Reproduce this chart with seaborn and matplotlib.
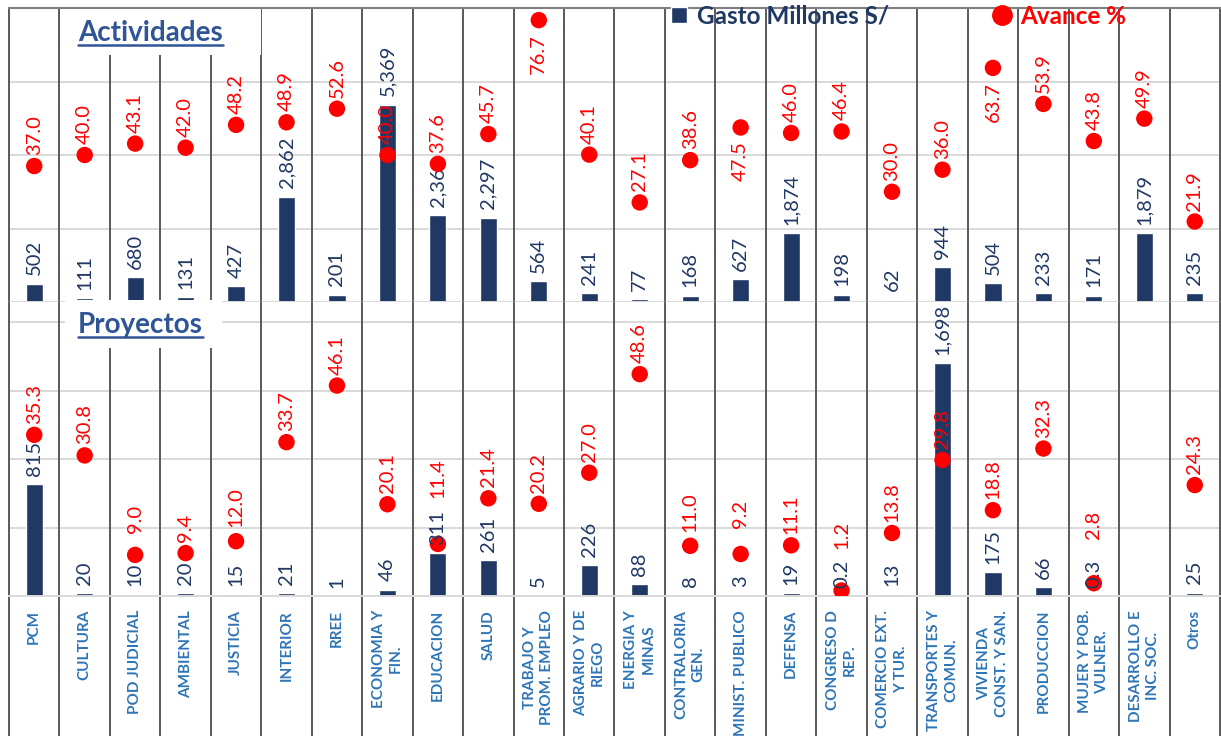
import numpy as np
import pandas as pd
import matplotlib
matplotlib.use('Agg')
import matplotlib.pyplot as plt
import seaborn as sns
from matplotlib.patches import Patch, Rectangle
from matplotlib.lines import Line2D

# sectores (columnas de la tabla)
sectores = ['PCM', 'CULTURA', 'POD JUDICIAL', 'AMBIENTAL', 'JUSTICIA', 'INTERIOR', 'RREE',
            'ECONOMIA Y\nFIN.', 'EDUCACION', 'SALUD', 'TRABAJO Y\nPROM. EMPLEO',
            'AGRARIO Y DE\nRIEGO', 'ENERGIA Y\nMINAS', 'CONTRALORIA\nGEN.', 'MINIST. PUBLICO',
            'DEFENSA', 'CONGRESO D\nREP.', 'COMERCIO EXT.\nY TUR.', 'TRANSPORTES Y\nCOMUN.',
            'VIVIENDA\nCONST. Y SAN.', 'PRODUCCION', 'MUJER Y POB.\nVULNER.',
            'DESARROLLO E\nINC. SOC.', 'Otros']

# Actividades
gasto_act = [502, 111, 680, 131, 427, 2862, 201, 5369, 2362, 2297, 564, 241, 77, 168,
             627, 1874, 198, 62, 944, 504, 233, 171, 1879, 235]
avance_act = [37.0, 40.0, 43.1, 42.0, 48.2, 48.9, 52.6, 40.0, 37.6, 45.7, 76.7, 40.1, 27.1,
              38.6, 47.5, 46.0, 46.4, 30.0, 36.0, 63.7, 53.9, 43.8, 49.9, 21.9]

# Proyectos
gasto_proy = [815, 20, 10, 20, 15, 21, 1, 46, 311, 261, 5, 226, 88, 8, 3, 19, 0.2, 13,
              1698, 175, 66, 0.3, np.nan, 25]
avance_proy = [35.3, 30.8, 9.0, 9.4, 12.0, 33.7, 46.1, 20.1, 11.4, 21.4, 20.2, 27.0, 48.6,
               11.0, 9.2, 11.1, 1.2, 13.8, 29.8, 18.8, 32.3, 2.8, np.nan, 24.3]

AZUL = '#203864'
AZUL_CLARO = '#2E75B6'
TITULO = '#2F5597'
ROJO = '#FF0000'
GRIS = '#D9D9D9'
LINEA = '#595959'

W, H = 1221, 736

sns.set_style('white')
plt.rcParams['font.family'] = ['Lato', 'DejaVu Sans']

fig = plt.figure(figsize=(W / 100, H / 100), dpi=100)


def caja(x0, y0, x1, y1):
    # caja en pixeles (origen arriba a la izquierda) -> fraccion de figura
    return [x0 / W, 1 - y1 / H, (x1 - x0) / W, (y1 - y0) / H]


ax_top = fig.add_axes(caja(9, 8, 1220, 302))
ax_bot = fig.add_axes(caja(9, 302, 1220, 596))


def panel(ax, gasto, avance, ymax_bar, ymax_av, grid, gaps, extender, etiquetas_arriba):
    x = np.arange(len(sectores))
    df = pd.DataFrame({'sector': sectores, 'gasto': gasto})
    sns.barplot(data=df, x='sector', y='gasto', order=sectores, color=AZUL, saturation=1,
                width=0.34, errorbar=None, ax=ax, zorder=2)
    ax.set_xlim(-0.5, len(sectores) - 0.5)
    ax.set_ylim(0, ymax_bar)
    ax.set_yticks(grid)
    ax.set_yticklabels([])
    ax.yaxis.grid(True, color=GRIS, lw=1.4)
    ax.set_axisbelow(True)
    ax.tick_params(length=0)
    ax.set_xlabel('')
    ax.set_ylabel('')
    for s in ['left', 'right', 'top']:
        ax.spines[s].set_visible(False)
    ax.spines['bottom'].set_color(GRIS)
    ax.spines['bottom'].set_linewidth(1.4)

    # separadores de columnas
    for k in range(len(sectores) + 1):
        ax.axvline(k - 0.5, ymin=extender, ymax=1, color=LINEA, lw=1.4, zorder=1, clip_on=False)

    ax2 = ax.twinx()
    sns.scatterplot(x=x, y=avance, color=ROJO, s=140, edgecolor='none', ax=ax2, zorder=3)
    ax2.set_ylim(0, ymax_av)
    ax2.set_yticks([])
    for s in ax2.spines.values():
        s.set_visible(False)

    # etiquetas del gasto (encima o debajo de los puntos)
    capa = ax2 if etiquetas_arriba else ax
    for i, g in enumerate(gasto):
        if np.isnan(g):
            continue
        txt = f'{g:,.0f}' if g >= 1 else f'{g:.1f}'
        capa.annotate(txt, (i, g), xycoords=ax.transData, xytext=(0, 6),
                      textcoords='offset points', rotation=90, ha='center', va='bottom',
                      color=AZUL, fontsize=14.5, zorder=4)

    for i, v in enumerate(avance):
        if np.isnan(v):
            continue
        gap = gaps.get(i, 11)
        ax2.annotate(f'{v:.1f}', (i, v), xytext=(0, gap * 0.72), textcoords='offset points',
                     rotation=90, ha='center', va='bottom' if gap > 0 else 'top',
                     color=ROJO, fontsize=14.5, zorder=4)
    return ax2


panel(ax_top, gasto_act, avance_act, 8000, 80, [2000, 4000, 6000],
      {10: -14, 14: -14, 19: -14}, 0, False)
panel(ax_bot, gasto_proy, avance_proy, 2146, 64.4, [500, 1000, 1500, 2000],
      {2: 22, 4: 14, 8: 46, 13: 14, 14: 26, 16: 42, 21: 44}, -140 / 294, True)

ax_top.spines['top'].set_visible(True)
ax_top.spines['top'].set_color('#7F7F7F')
ax_top.spines['top'].set_linewidth(1.5)
ax_top.tick_params(labelbottom=False)

ax_bot.set_xticks(np.arange(len(sectores)))
ax_bot.set_xticklabels(sectores, rotation=90, color=AZUL_CLARO, fontsize=11,
                       fontweight='bold', linespacing=1.3)
for t in ax_bot.get_xticklabels():
    t.set_multialignment('center')
ax_bot.tick_params(axis='x', length=0, pad=10)

# cajas blancas de los titulos
for x0, y0, x1, y1 in [(61, 9, 261, 55), (65, 300, 222, 348)]:
    fig.add_artist(Rectangle((x0 / W, 1 - y1 / H), (x1 - x0) / W, (y1 - y0) / H,
                             transform=fig.transFigure, facecolor='white',
                             edgecolor='none', zorder=4))

t1 = fig.text(78 / W, 1 - 41 / H, 'Actividades', fontsize=20, fontweight='bold',
              color=TITULO, va='baseline', ha='left', zorder=5)
t2 = fig.text(78 / W, 1 - 333 / H, 'Proyectos', fontsize=20, fontweight='bold',
              color=TITULO, va='baseline', ha='left', zorder=5)

fig.legend(handles=[Patch(facecolor=AZUL),
                    Line2D([], [], marker='o', ls='', color=ROJO, markersize=14)],
           labels=['Gasto Millones S/', 'Avance %'], ncol=2, loc='center left',
           bbox_to_anchor=(671 / W, 1 - 16 / H), frameon=False,
           prop={'weight': 'bold', 'size': 17.5}, labelcolor=[AZUL, ROJO],
           handlelength=0.65, handleheight=0.65, handletextpad=0.4, columnspacing=4.35,
           borderpad=0, borderaxespad=0)

# subrayado de los titulos
fig.canvas.draw()
for t in [t1, t2]:
    bb = t.get_window_extent()
    fig.add_artist(Line2D([bb.x0, bb.x1], [bb.y0 + 1, bb.y0 + 1], color=TITULO, lw=1.8,
                          transform=None, zorder=5))

fig.savefig('out.png', dpi=100)
